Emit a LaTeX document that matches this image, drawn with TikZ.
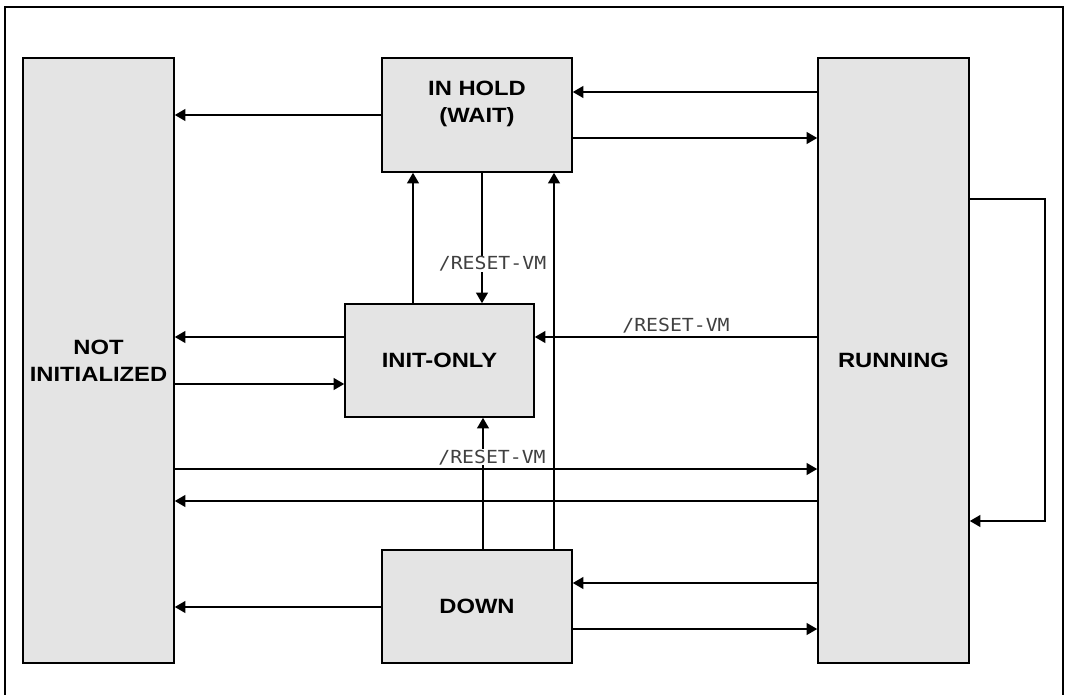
\documentclass[tikz,border=0pt]{standalone}
\usepackage{fontspec}
\usepackage{tikz}
\usetikzlibrary{arrows.meta,calc}
\newfontfamily\statefont[FakeStretch=1.15]{Liberation Sans}
\newfontfamily\cmdfont[FakeStretch=1.1]{DejaVu Sans Mono}
\definecolor{stategray}{HTML}{E4E4E4}

\begin{document}
\begin{tikzpicture}[
  x=0.75pt, y=-0.75pt,
  state/.style={draw, line width=1.2pt, fill=stategray, align=center, inner sep=0pt,
    font=\statefont\bfseries\fontsize{15.5}{20.5}\selectfont},
  arr/.style={-{Triangle[length=8pt,width=9pt]}, line width=1.1pt},
  cmd/.style={font=\cmdfont\fontsize{13.5}{16}\selectfont, text=black!75, fill=white, inner sep=0.5pt}
]
\useasboundingbox (0,0) rectangle (1066,695);
\draw[line width=1.3pt] (5,695) -- (5,7) -- (1063,7) -- (1063,695);
% states
\node[state, minimum width=113.25pt, minimum height=453.75pt] (notinit) at (98.5,360.5) {NOT\\INITIALIZED};
\node[state, minimum width=113.25pt, minimum height=453.75pt] (running) at (893.5,360.5) {RUNNING};
\node[state, minimum width=142.5pt, minimum height=85.5pt, text depth=20pt] (hold) at (477,115) {IN HOLD\\(WAIT)};
\node[state, minimum width=141.75pt, minimum height=84.75pt] (init) at (439.5,360.5) {INIT-ONLY};
\node[state, minimum width=142.5pt, minimum height=84.75pt] (down) at (477,606.5) {DOWN};
% transitions
\draw[arr] (running.west |- 0,92) -- (hold.east |- 0,92);
\draw[arr] (hold.east |- 0,138) -- (running.west |- 0,138);
\draw[arr] (hold.west |- 0,115) -- (notinit.east |- 0,115);
\draw[arr] (init.north -| 413,0) -- (hold.south -| 413,0);
\draw[arr] (hold.south -| 482,0) -- node[cmd, pos=0.7, xshift=7.9pt] {/RESET-VM} (init.north -| 482,0);
\draw[arr] (down.north -| 554,0) -- (hold.south -| 554,0);
\draw[arr] (down.north -| 483,0) -- node[cmd, pos=0.7, xshift=6.75pt] {/RESET-VM} (init.south -| 483,0);
\draw[arr] (init.west |- 0,337) -- (notinit.east |- 0,337);
\draw[arr] (notinit.east |- 0,384) -- (init.west |- 0,384);
\draw[arr] (running.west |- 0,337) -- node[cmd, above=2pt, fill=none] {/RESET-VM} (init.east |- 0,337);
\draw[arr] (notinit.east |- 0,469) -- (running.west |- 0,469);
\draw[arr] (running.west |- 0,501) -- (notinit.east |- 0,501);
\draw[arr] (running.west |- 0,583) -- (down.east |- 0,583);
\draw[arr] (down.west |- 0,607) -- (notinit.east |- 0,607);
\draw[arr] (down.east |- 0,629) -- (running.west |- 0,629);
\draw[arr] (running.east |- 0,199) -- (1045,199) |- (running.east |- 0,521);
\end{tikzpicture}
\end{document}
